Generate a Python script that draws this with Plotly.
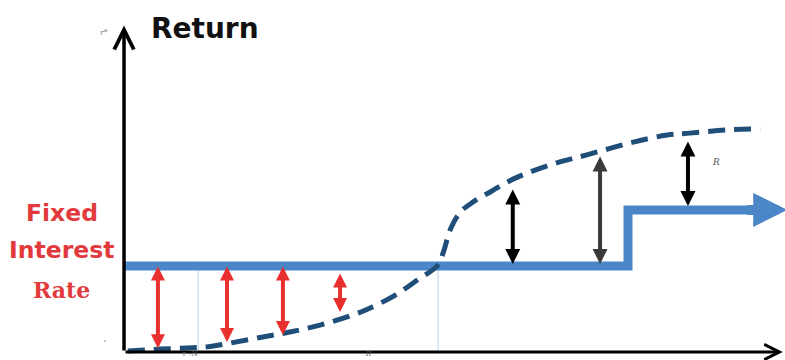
import plotly.graph_objects as go

# ---- data (conceptual units: time on x, return on y) ----
curve_x = [0.6, 5.7, 10.0, 13.2, 16.9, 22.1, 26.4, 31.2, 36.5, 39.2, 43.2, 46.7, 50.0, 50.9,
           52.0, 53.6, 55.6, 58.3, 61.0, 64.2, 68.9, 73.7, 81.1, 86.5, 90.1, 96.0, 101.3]
curve_y = [0.3, 0.9, 1.25, 1.6, 2.8, 4.7, 6.25, 8.4, 11.6, 13.75, 17.8, 22.5, 27.2, 31.5,
           38.5, 43.8, 46.9, 50.0, 53.1, 55.9, 59.1, 61.6, 65.6, 67.8, 68.4, 69.4, 69.7]

fixed_x = [0, 80.25, 80.25, 101.0]
fixed_y = [26.9, 26.9, 44.4, 44.4]
fixed_arrow_tip = 105.6

red_x = [5.4, 16.4, 25.3, 34.4]
red_top = [27.2, 27.2, 27.2, 25.0]
red_bottom = [1.2, 3.1, 5.3, 12.5]

black_x = [61.9, 75.8, 89.8]
black_top = [51.25, 61.6, 66.25]
black_bottom = [27.5, 27.5, 45.6]
black_colors = ["#000000", "#3a3a3a", "#000000"]

guide_x = [11.8, 50.0]
guide_top = [26.5, 26.5]

x_axis_end = 104.9
y_axis_end = 102.0

fig = go.Figure()

# thin guide lines
for gx, gt in zip(guide_x, guide_top):
    fig.add_trace(go.Scatter(x=[gx, gx], y=[0, gt], mode="lines",
                             line=dict(color="#b9d3ee", width=1), hoverinfo="skip"))

# fixed interest rate line
fig.add_trace(go.Scatter(x=fixed_x, y=fixed_y, mode="lines",
                         line=dict(color="#4a86c8", width=9), hoverinfo="skip"))

# variable return (dashed)
fig.add_trace(go.Scatter(x=curve_x, y=curve_y, mode="lines", line_shape="spline",
                         line=dict(color="#1f4e79", width=5, dash="17px,9px", smoothing=1.0),
                         hoverinfo="skip"))

ann = []
# axes with arrows
ann.append(dict(x=0, y=y_axis_end, ax=0, ay=0, xref="x", yref="y", axref="x", ayref="y",
                showarrow=True, arrowhead=5, arrowsize=1.1, arrowwidth=3.5, arrowcolor="#000", text=""))
ann.append(dict(x=x_axis_end, y=0, ax=0, ay=0, xref="x", yref="y", axref="x", ayref="y",
                showarrow=True, arrowhead=5, arrowsize=1.0, arrowwidth=3, arrowcolor="#000", text=""))
# arrow on fixed line
ann.append(dict(x=fixed_arrow_tip, y=fixed_y[-1], ax=fixed_x[-1] - 2, ay=fixed_y[-1],
                xref="x", yref="y", axref="x", ayref="y", showarrow=True, arrowhead=2,
                arrowsize=0.68, arrowwidth=10, arrowcolor="#4a86c8", text=""))
# red arrows
for x, t, b in zip(red_x, red_top, red_bottom):
    ann.append(dict(x=x, y=b, ax=x, ay=t, xref="x", yref="y", axref="x", ayref="y",
                    showarrow=True, arrowhead=2, startarrowhead=2, arrowside="end+start",
                    arrowsize=0.7, startarrowsize=0.7, arrowwidth=4, arrowcolor="#e8302e", text=""))
# black arrows
for x, t, b, c in zip(black_x, black_top, black_bottom, black_colors):
    ann.append(dict(x=x, y=b, ax=x, ay=t, xref="x", yref="y", axref="x", ayref="y",
                    showarrow=True, arrowhead=2, startarrowhead=2, arrowside="end+start",
                    arrowsize=0.75, startarrowsize=0.75, arrowwidth=4, arrowcolor=c, text=""))

# texts
ann.append(dict(x=4.0, y=101.0, xref="x", yref="y", text="<b>Return</b>", showarrow=False,
                xanchor="left", yanchor="middle", font=dict(family="DejaVu Sans", size=28, color="#111")))
red = "#e23a3c"
ann.append(dict(x=-9.9, y=43.4, xref="x", yref="y", text="<b>Fixed</b>", showarrow=False,
                xanchor="center", yanchor="middle", font=dict(family="DejaVu Sans", size=23.5, color=red)))
ann.append(dict(x=-9.9, y=31.9, xref="x", yref="y", text="<b>Interest</b>", showarrow=False,
                xanchor="center", yanchor="middle", font=dict(family="DejaVu Sans", size=23.5, color=red)))
ann.append(dict(x=-9.9, y=19.4, xref="x", yref="y", text="<b>Rate</b>", showarrow=False,
                xanchor="center", yanchor="middle", font=dict(family="DejaVu Serif", size=22, color=red)))
ann.append(dict(x=-3.2, y=100.0, xref="x", yref="y", text="<i>r*</i>", showarrow=False,
                font=dict(family="DejaVu Serif", size=8, color="#777")))
ann.append(dict(x=-3.0, y=3.2, xref="x", yref="y", text="·", showarrow=False,
                font=dict(family="DejaVu Sans", size=12, color="#888")))
ann.append(dict(x=94.3, y=59.3, xref="x", yref="y", text="<i>R</i>", showarrow=False,
                font=dict(family="DejaVu Serif", size=9, color="#555")))
ann.append(dict(x=10.6, y=-2.5, xref="x", yref="y", text="<i>τ→N</i>", showarrow=False,
                yanchor="bottom", font=dict(family="DejaVu Serif", size=7, color="#555")))
ann.append(dict(x=38.9, y=-2.5, xref="x", yref="y", text="<i>R</i>", showarrow=False,
                yanchor="bottom", font=dict(family="DejaVu Serif", size=7, color="#555")))

fig.update_layout(
    width=785, height=360, margin=dict(l=0, r=0, t=0, b=0),
    paper_bgcolor="white", plot_bgcolor="white", showlegend=False,
    xaxis=dict(range=[-19.75, 105.25], visible=False, fixedrange=True),
    yaxis=dict(range=[-2.5, 110.0], visible=False, fixedrange=True),
    annotations=ann,
)

fig.write_html("out.html", config={"displayModeBar": False},
               post_script="document.body.style.margin='0';")
